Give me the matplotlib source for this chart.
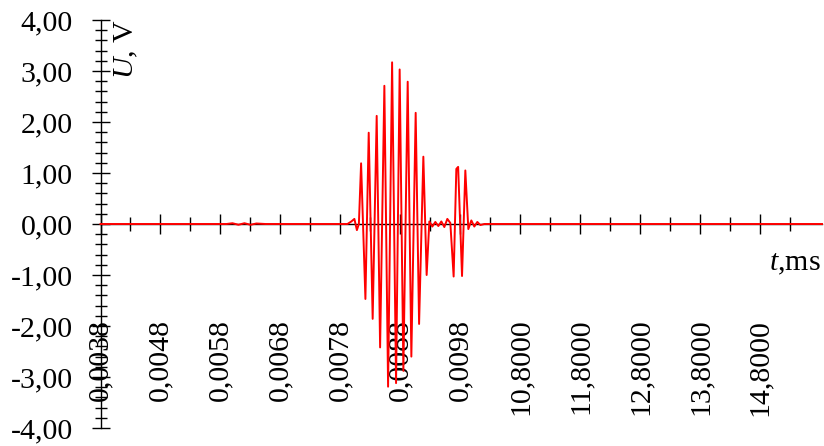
import matplotlib
matplotlib.use('Agg')
import matplotlib.pyplot as plt
from matplotlib.ticker import FixedLocator, MultipleLocator

FS = 21.5

plt.rcParams.update({
    'font.family': 'Liberation Serif',
    'font.size': FS,
    'mathtext.fontset': 'custom',
    'mathtext.rm': 'Liberation Serif',
    'mathtext.it': 'Liberation Serif:italic',
})

# category axis: one label per major tick, signal positions in tick units
tick_labels = ['0,0038', '0,0048', '0,0058', '0,0068', '0,0078', '0,0088',
               '0,0098', '10,8000', '11,8000', '12,8000', '13,8000', '14,8000']

pos = [0.0, 2.1, 2.2, 2.3, 2.4, 2.5, 2.6, 2.75,
       4.117, 4.183, 4.233, 4.275, 4.308,
       4.345, 4.417, 4.472, 4.538, 4.605, 4.662, 4.733, 4.795, 4.862,
       4.928, 4.988, 5.05, 5.122, 5.183, 5.255, 5.312, 5.383, 5.438,
       5.483, 5.533, 5.583, 5.633, 5.683, 5.733, 5.783, 5.833,
       5.888, 5.933, 5.963, 6.028, 6.083,
       6.133, 6.183, 6.233, 6.283, 6.333, 6.4, 12.03]
volts = [0.0, 0.0, 0.015, -0.015, 0.015, -0.015, 0.01, 0.0,
         0.0, 0.05, 0.1, -0.12, 0.0,
         1.19, -1.47, 1.79, -1.86, 2.12, -2.42, 2.71, -3.19, 3.17,
         -3.12, 3.03, -2.88, 2.79, -2.6, 2.18, -1.96, 1.32, -1.0,
         0.05, -0.05, 0.04, -0.04, 0.05, -0.06, 0.1, 0.02,
         -1.03, 1.08, 1.12, -1.02, 1.05,
         -0.1, 0.07, -0.05, 0.04, -0.02, 0.0, 0.0]

y_ticks = [-4, -3, -2, -1, 0, 1, 2, 3, 4]

W, H = 824, 446
fig = plt.figure(figsize=(W / 100, H / 100), dpi=100)
ax = fig.add_axes([100.5 / W, 18 / H, (822 - 100.5) / W, 408 / H])
ax.set_xlim(0, 12.03)
ax.set_ylim(-4, 4)

for side in ('top', 'right'):
    ax.spines[side].set_visible(False)
ax.spines['bottom'].set_position(('data', 0))
ax.spines['bottom'].set_linewidth(1.0)
ax.spines['left'].set_linewidth(1.0)

ax.plot(pos, volts, color='#ff0000', lw=1.4, zorder=5, clip_on=False)

ax.xaxis.set_major_locator(FixedLocator(range(len(tick_labels))))
ax.set_xticklabels(tick_labels, rotation=90)
ax.xaxis.set_minor_locator(FixedLocator([i + 0.5 for i in range(len(tick_labels))]))
ax.tick_params(axis='x', which='major', direction='inout', length=14.4, width=1,
               pad=61, labelsize=FS)
ax.tick_params(axis='x', which='minor', direction='inout', length=9.4, width=1)

ax.yaxis.set_major_locator(FixedLocator(y_ticks))
ax.set_yticklabels([f'{v:.2f}'.replace('.', ',') for v in y_ticks])
ax.yaxis.set_minor_locator(MultipleLocator(0.2))
ax.tick_params(axis='y', which='major', direction='inout', length=12.7, width=1,
               pad=13.5, labelsize=FS)
ax.tick_params(axis='y', which='minor', direction='inout', length=9, width=1)

fig.text(113 / W, 1 - 19 / H, r'$\mathit{U}$, V', rotation=90,
         ha='left', va='top', fontsize=FS)
fig.text(821 / W, 1 - 264 / H, r'$\mathit{t}$,ms', ha='right', va='center',
         fontsize=FS)

fig.savefig('out.png', dpi=100, facecolor='white')
